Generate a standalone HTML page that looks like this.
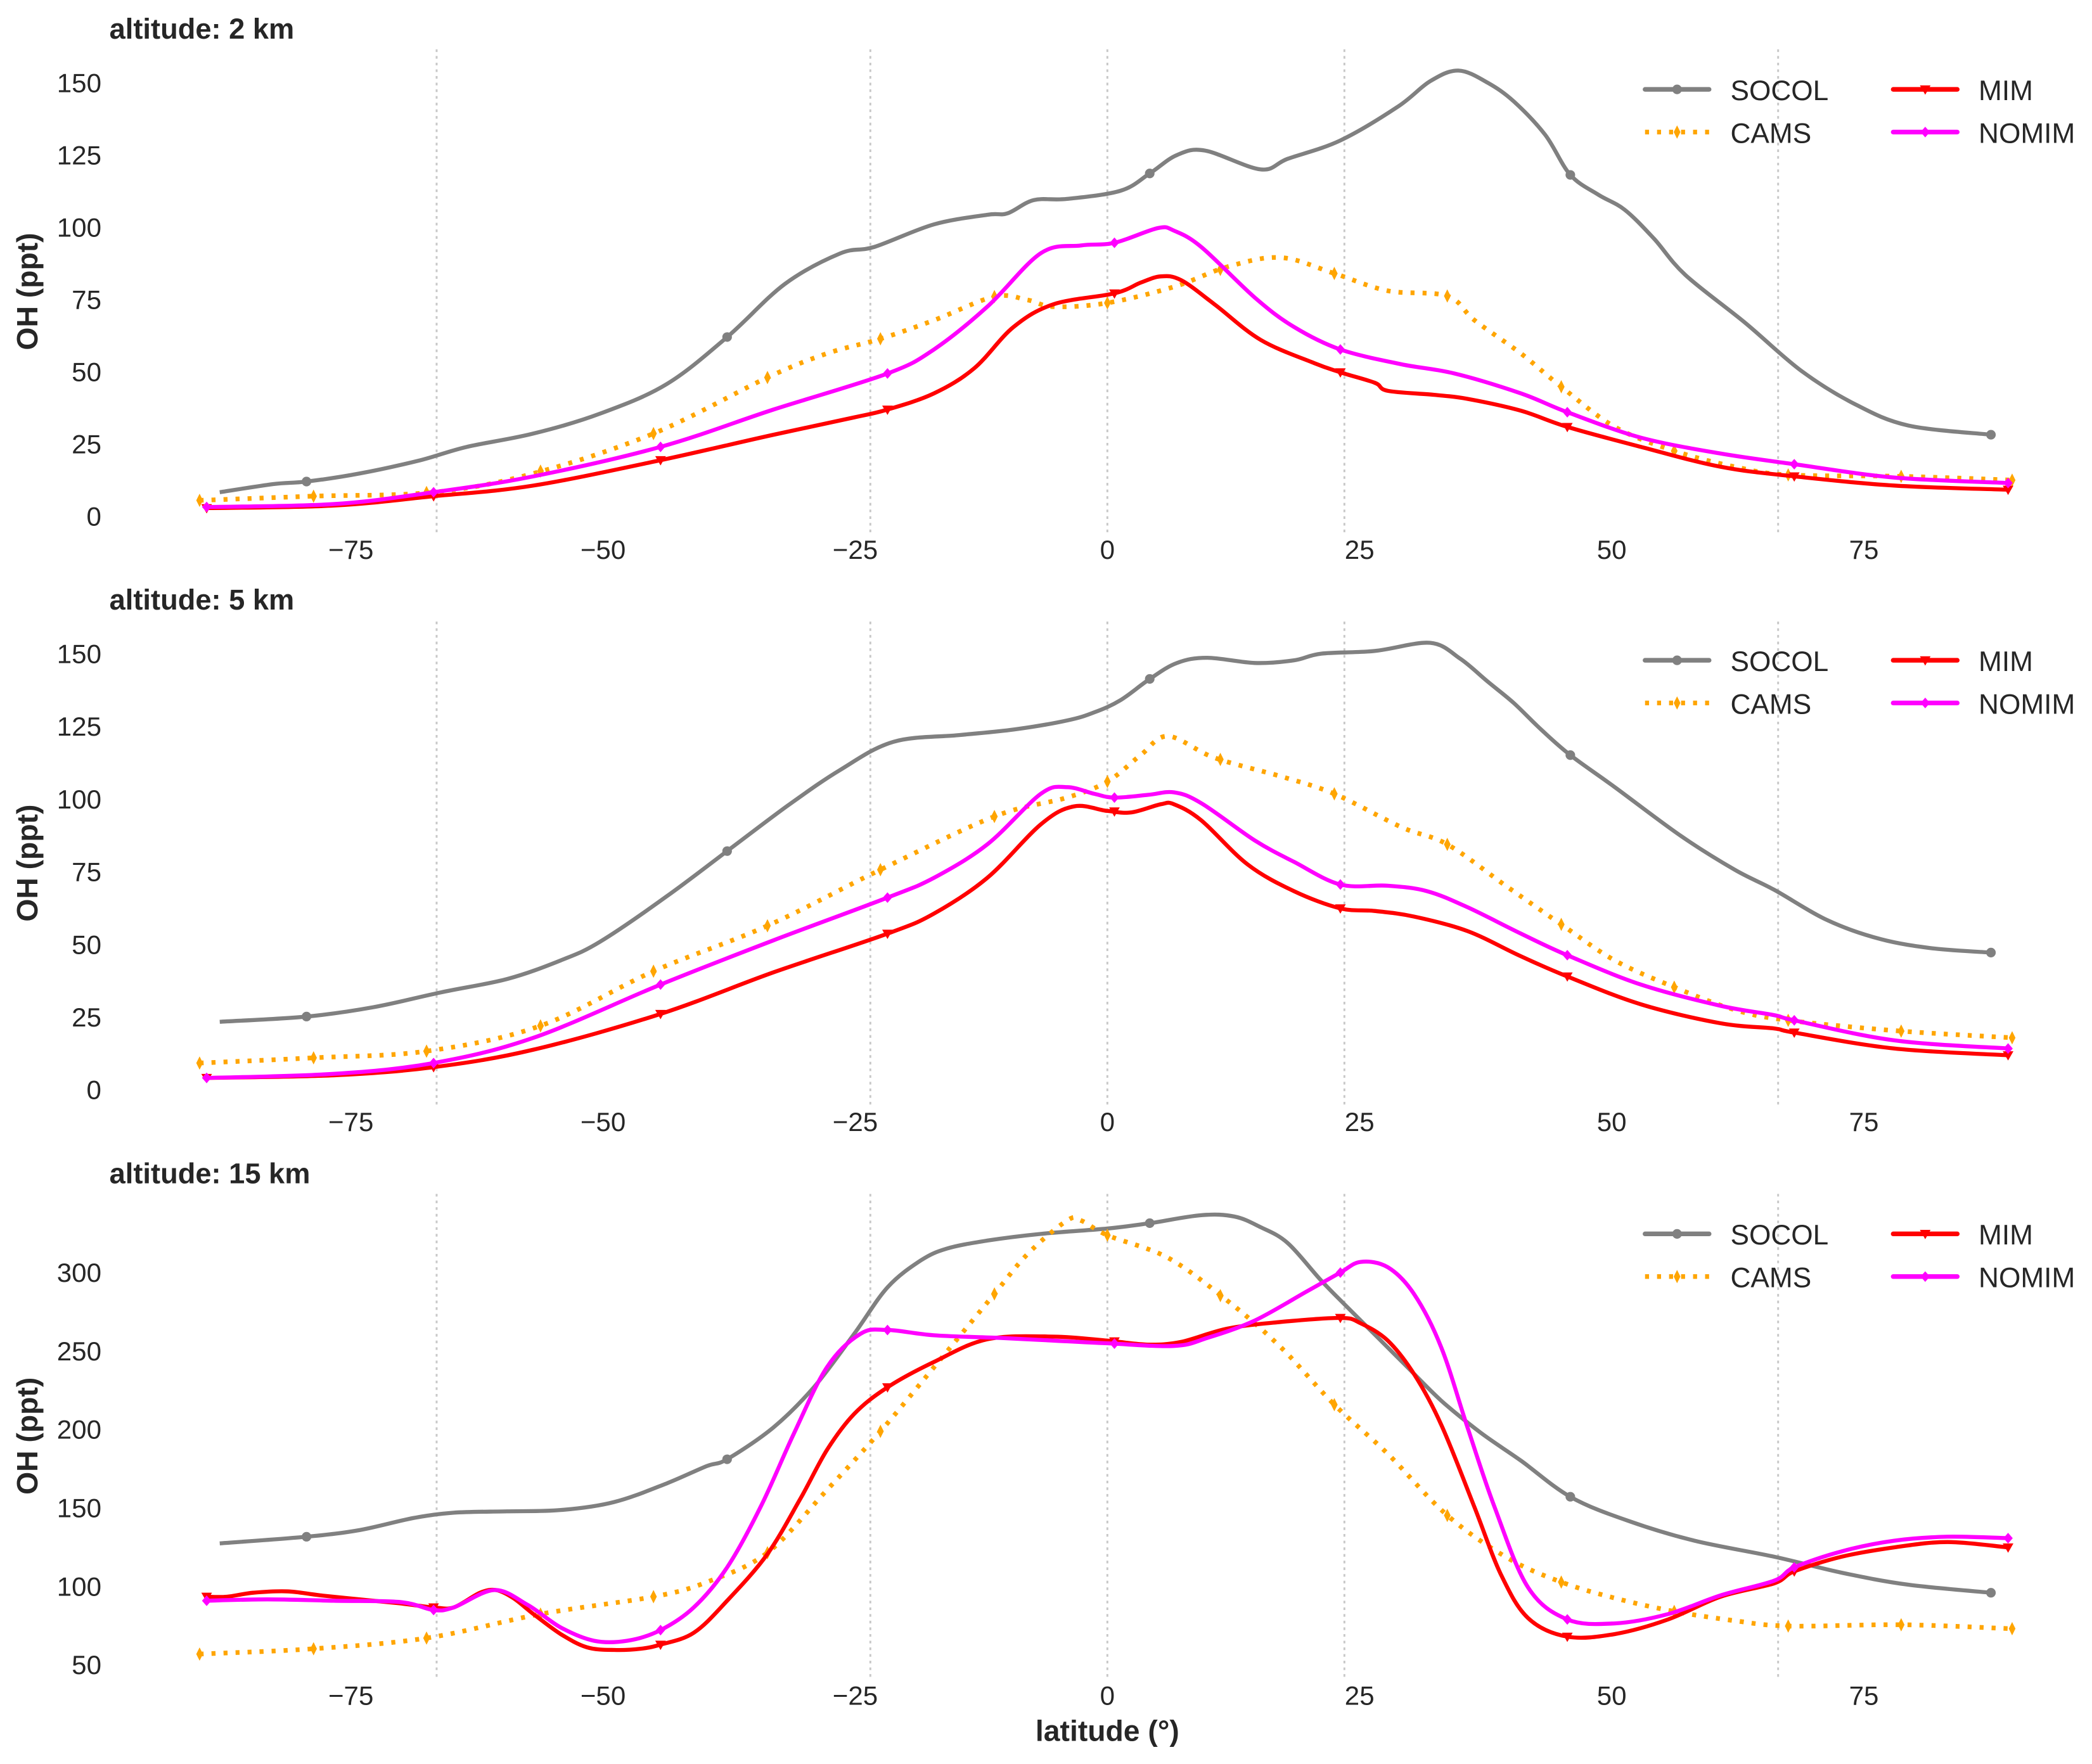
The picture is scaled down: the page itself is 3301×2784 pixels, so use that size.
<!DOCTYPE html>
<html><head><meta charset="utf-8">
<style>html,body{margin:0;padding:0;background:#fff}svg{display:block}text{font-family:"Liberation Sans",Arial,sans-serif;fill:#262626}</style>
</head><body>
<svg id="chart" xmlns="http://www.w3.org/2000/svg" width="3301" height="2784" viewBox="0 0 1568 1322.4" preserveAspectRatio="none">
<g id="root"></g>
</svg>
<script>
// ---- data ----
const p1_socol_lat=[-88,-82.7,-79.4,-74.1,-68.1,-63.5,-56.9,-50.3,-43.7,-37.7,-32,-26.5,-23.1,-17.2,-11.9,-9.9,-7.3,-4,1.3,4.2,6.9,9.7,15.2,17.9,23.1,28.8,32,34.8,37.7,40.3,43.4,45.9,48.7,51.3,54.2,57.3,63.2,68.8,74.1,79.4,87.6];
const p1_socol_val=[8.3,11.1,12,14.8,19.4,24,28.6,35.5,45.7,62,80.3,90.9,93.2,101,104.3,104.8,109.4,109.8,112.6,118.6,125,126.5,120,123.7,130,141.7,150.5,154.2,150,143.5,132,118.1,111.2,106,96,83.5,67,50.3,38.8,31.4,28.2];
const p1_cams_lat=[-90,-79,-66.8,-56.9,-45,-33.7,-27.8,-22.5,-17.2,-11.2,-7.9,-5.3,0,6.6,11.9,17.2,22.5,27.8,33.7,36.4,41,45,50.3,56.2,62.2,67.5,78.7,89.7];
const p1_cams_val=[5.5,6.9,8.3,14.8,28.6,48,56.3,61.4,67.8,76,74.8,72.5,73.8,79.4,86.3,89.5,84,78,76.2,67.8,56.3,44.8,30.9,22.6,17.1,14.3,13.8,12.5];
const p1_mim_lat=[-89.3,-76.7,-66.8,-56.9,-44.3,-33.1,-25.1,-21.8,-17.2,-13.2,-9.3,-5.3,0.7,3.3,5.3,7.3,10.6,15.2,20.5,23.1,26.5,27.8,32.4,35.7,41,45.6,52.9,60.8,68.1,78,89.3];
const p1_mim_val=[2.8,3.7,6.9,10.6,19.4,28.2,34.2,36.9,42.5,51.2,65.5,73.4,77.1,80.8,83,81.7,73.4,61,53,49.8,46.2,43.4,42,40.6,36.5,30.9,24,17.1,13.8,10.6,9.2];
const p1_nomim_lat=[-89.3,-76.7,-66.8,-56.9,-44.3,-33.1,-21.8,-17.2,-11.9,-6.6,-2.6,0.7,5,6.6,9.3,14.6,18.5,23.1,29.1,34.4,41,45.6,52.9,60.8,68.1,78,89.3];
const p1_nomim_val=[3.2,4.2,8.3,13.8,24,36.9,49.4,57.7,72.5,91,93.7,94.6,99.7,98.8,93.2,75.7,65.5,57.7,52.6,49.4,42.5,36,27.2,21.7,18,13.4,11.5];

const p2_socol_lat=[-88,-79.4,-72.8,-66.1,-59.5,-54.2,-50.3,-43.7,-37.7,-31.7,-26.5,-21.2,-14.6,-9.3,-4,-1.3,1.3,4.2,6.9,9.9,14.6,18.5,21.2,26.5,32,35,37.7,40.3,43,45.9,50.3,56.9,62.2,66.1,71.4,76.7,82,87.6];
const p2_socol_val=[23.4,25.2,28.4,33.5,38.1,44.5,50.9,66.5,82.1,97.7,110,119.7,122,123.9,127,129.8,134,141.3,146.8,148.6,146.8,147.7,150,150.9,153.7,148.2,140.4,133,123.9,115.1,104.1,87.2,75.7,68.8,58.3,51.8,48.6,47.2];
const p2_cams_lat=[-90,-78.7,-67.5,-56.2,-45,-33.7,-22.5,-11.2,-4,0,3.3,6,10.6,17.2,22.5,29.1,33.7,39.7,45,50.3,56.2,62.2,67.5,78.7,89.7];
const p2_cams_val=[9.2,11,13.3,22,40.8,56.4,75.7,94,100.5,106,115.1,121.6,114.2,107.8,101.8,90.4,84.4,69.7,56.9,44.5,35.3,27.5,23.9,20.2,17.9];
const p2_mim_lat=[-89.3,-76.7,-66.8,-56.9,-44.3,-33.1,-21.8,-17.2,-11.9,-6.6,-3.3,0,2.4,5.3,6.6,9.3,13.9,18.5,23.1,26.5,30.4,35.7,41,45.6,52.9,60.8,66.1,68.1,78,89.3];
const p2_mim_val=[4.1,5,7.8,13.8,26.1,40.4,53.7,60.6,72.9,91.3,97.5,95.9,95.4,98.2,98.2,92.7,77.5,68.3,62.4,61.5,59.6,54.6,45.9,39,29.4,22.9,21.1,19.7,14.2,11.9];
const p2_nomim_lat=[-89.3,-76.7,-66.8,-56.9,-44.3,-33.1,-21.8,-17.2,-11.9,-6.6,-4,-1.3,0.7,4,6.6,9.3,14.6,18.5,23.1,27.8,31.7,35.7,41,45.6,52.9,60.8,66.1,68.1,78,89.3];
const p2_nomim_val=[4.1,5.5,9.2,17.9,36.2,51.4,66.1,72.9,84.4,101.8,104.1,101.8,100.5,101.4,102.3,98.6,85.8,78.4,70.6,70.2,68.3,62.8,53.7,46.3,36.2,28.9,25.7,23.9,17,14.2];

const p3_socol_lat=[-88,-79.4,-74.1,-68.8,-64.8,-59.5,-54.2,-48.9,-43.7,-39.7,-37.7,-33.1,-29.1,-25.1,-21.8,-18.5,-15.9,-11.9,-6.6,0,4.2,9.3,12.6,15.2,17.9,21.2,23.8,29.1,33.1,37,41,45.9,51.6,58.2,66.1,72.8,79.4,87.6];
const p3_socol_val=[127.4,131.6,135.9,143.5,146.9,147.8,148.6,153.7,165.6,176.7,181,201.4,226.9,260.9,290.6,307.7,315.3,320.4,324.7,328.1,331.5,336.6,335.7,328.9,318.7,294.9,277.9,243.9,218.4,198,180.1,157.1,141.8,129.1,118.9,108.7,101,95.9];
const p3_cams_lat=[-90,-78.7,-67.5,-56.2,-45,-39.7,-33.7,-27.8,-22.5,-17.2,-11.2,-7.9,-4,-2.6,0,6,11.9,17.2,22.5,27.8,33.7,39.7,45,50.3,56.2,62.2,67.5,78.7,89.7];
const p3_cams_val=[56.8,60.2,67,82.3,93.4,102.7,121.4,161.4,198.8,239.6,286.4,311.9,333.2,333.2,323.8,309.4,282.1,252.4,215.8,184.4,145.2,118,102.7,92.5,84,78.1,74.7,75.5,73];
const p3_mim_lat=[-89.3,-87.3,-84.7,-81.3,-78,-72.8,-70.1,-66.8,-64.8,-62.2,-60.6,-58.9,-56.9,-54.2,-51.6,-48.9,-46.3,-44.3,-41,-37.7,-33.7,-30.4,-27.8,-25.1,-21.8,-17.2,-11.9,-5.3,0,4,7.3,11.9,17.2,23.1,25.1,27.8,30.4,33.1,36.4,39,41.7,45.6,50.3,55.6,60.8,66.1,68.1,72.8,78,83.3,89.3];
const p3_mim_val=[93.4,93.4,95.9,96.8,94.2,90.8,89.1,86.6,86.6,95.9,97.6,92.5,82.3,69.6,61.1,59.4,60.2,62.8,70.4,90.8,120.6,156.3,186.9,209.9,226.9,243,257.5,259.2,256.6,254.1,255.8,264.3,268.5,271.1,267.7,256.6,235.4,203.1,150.3,107.8,79.8,67.9,69.6,78.9,93.4,101.9,109.5,118.9,124.8,128.2,124.8];
const p3_nomim_lat=[-89.3,-83.3,-76.7,-70.1,-66.8,-64.8,-60.8,-57.5,-54.2,-50.9,-47.6,-44.3,-41,-37.7,-34.4,-31.1,-27.8,-24.5,-21.8,-17.2,-10.6,-5.3,0,6.6,9.9,14.6,19.8,23.1,25.1,27.8,30.4,33.1,35.7,38.4,41.7,45.6,50.3,55.6,60.8,66.1,68.1,72.8,78,83.3,89.3];
const p3_nomim_val=[90.8,91.7,90.8,90,84.9,86.6,97.6,88.3,73.8,65.3,65.3,72.1,86.6,112.1,150.3,197.1,239.6,260.9,263.4,260,258.3,256.6,254.9,253.2,258.3,269.4,288.1,300,306.8,303.4,286.4,252.4,201.4,150.3,99.3,78.9,76.4,82.3,94.2,103.6,112.1,122.3,129.1,131.6,130.7];

const socolMarkLat=[-79.4,-37.7,4.2,45.9,87.6];
const camsMarkLat=[-90,-78.7,-67.5,-56.2,-45,-33.7,-22.5,-11.2,0,11.2,22.5,33.7,45,56.2,67.5,78.7,89.7];
const mimMarkLat=[-89.3,-66.8,-44.3,-21.8,0.7,23.1,45.6,68.1,89.3];
const xTicks=[-75,-50,-25,0,25,50,75];
const tropicLines=[-66.5,-23.5,0,23.5,66.5];
const yTicks1=[0,25,50,75,100,125,150];
const yTicks3=[50,100,150,200,250,300];
const panelTitles=["altitude: 2 km","altitude: 5 km","altitude: 15 km"];

// ---- drawing ----
const NS="http://www.w3.org/2000/svg";
const root=document.getElementById('root');
function mk(tag,attrs,parent){const e=document.createElementNS(NS,tag);for(const k in attrs)e.setAttribute(k,attrs[k]);(parent||root).appendChild(e);return e;}
const xs=lat=>830+lat*7.56;
const panels=[
 {top:37,bot:400,y0:387,v0:0,k:2.1667,ticks:yTicks1,title:panelTitles[0],tY:22,xlY:412,legY:67,
  s:[[p1_socol_lat,p1_socol_val],[p1_cams_lat,p1_cams_val],[p1_mim_lat,p1_mim_val],[p1_nomim_lat,p1_nomim_val]]},
 {top:466,bot:828,y0:817,v0:0,k:2.18,ticks:yTicks1,title:panelTitles[1],tY:450,xlY:841,legY:495,
  s:[[p2_socol_lat,p2_socol_val],[p2_cams_lat,p2_cams_val],[p2_mim_lat,p2_mim_val],[p2_nomim_lat,p2_nomim_val]]},
 {top:895,bot:1258,y0:1248,v0:50,k:1.176,ticks:yTicks3,title:panelTitles[2],tY:880,xlY:1271,legY:925,
  s:[[p3_socol_lat,p3_socol_val],[p3_cams_lat,p3_cams_val],[p3_mim_lat,p3_mim_val],[p3_nomim_lat,p3_nomim_val]]}
];
const styles=[
 {name:'SOCOL',c:'#808080',dash:null,marks:socolMarkLat,m:'circle'},
 {name:'CAMS',c:'#FFA500',dash:'3,6',marks:camsMarkLat,m:'thindiamond'},
 {name:'MIM',c:'#FF0000',dash:null,marks:mimMarkLat,m:'tri'},
 {name:'NOMIM',c:'#FF00FF',dash:null,marks:mimMarkLat,m:'diamond'}
];
function smooth(pts){let d='M'+pts[0][0].toFixed(1)+','+pts[0][1].toFixed(1);
 for(let i=0;i<pts.length-1;i++){const p0=pts[Math.max(0,i-1)],p1=pts[i],p2=pts[i+1],p3=pts[Math.min(pts.length-1,i+2)];
  const c1=[p1[0]+(p2[0]-p0[0])/6,p1[1]+(p2[1]-p0[1])/6],c2=[p2[0]-(p3[0]-p1[0])/6,p2[1]-(p3[1]-p1[1])/6];
  d+=' C'+c1[0].toFixed(1)+','+c1[1].toFixed(1)+' '+c2[0].toFixed(1)+','+c2[1].toFixed(1)+' '+p2[0].toFixed(1)+','+p2[1].toFixed(1);}
 return d;}
function interp(lats,vals,l){if(l<=lats[0])return vals[0];for(let i=0;i<lats.length-1;i++){if(l<=lats[i+1]){const t=(l-lats[i])/(lats[i+1]-lats[i]);return vals[i]+t*(vals[i+1]-vals[i]);}}return vals[vals.length-1];}
function marker(g,type,x,y,c){
 if(type==='circle')return mk('circle',{cx:x,cy:y,r:3.6,fill:c},g);
 if(type==='tri')return mk('path',{d:`M${x-4},${y-3} L${x+4},${y-3} L${x},${y+4} Z`,fill:c},g);
 if(type==='thindiamond')return mk('path',{d:`M${x},${y-5} L${x+2.5},${y} L${x},${y+5} L${x-2.5},${y} Z`,fill:c},g);
 return mk('path',{d:`M${x},${y-4} L${x+3.5},${y} L${x},${y+4} L${x-3.5},${y} Z`,fill:c},g);
}
panels.forEach((P,pi)=>{
 const ys=v=>P.y0-(v-P.v0)*P.k;
 const g=mk('g',{});
 
 
 tropicLines.forEach(l=>{const ln=mk('line',{x1:xs(l),x2:xs(l),y1:P.top,y2:P.bot,stroke:'#c8c8c8','stroke-width':1.4,'stroke-dasharray':'2,3'},g);
  });
 const t=mk('text',{x:82,y:P.tY+7,'font-size':21.5,'font-weight':'bold'},g);t.textContent=P.title;
 
 P.ticks.forEach(v=>{const tx=mk('text',{x:76,y:ys(v)+7,'font-size':20,'text-anchor':'end'},g);tx.textContent=v;
  });
 xTicks.forEach(v=>{const tx=mk('text',{x:xs(v),y:P.xlY+7,'font-size':20,'text-anchor':'middle'},g);tx.textContent=v<0?'\u2212'+(-v):v;
  });
 const yl=mk('text',{x:0,y:0,'font-size':22,'font-weight':'bold','text-anchor':'middle',transform:`translate(28,${(P.top+P.bot)/2}) rotate(-90)`},g);
 yl.textContent='OH (ppt)';
 P.s.forEach((sd,si)=>{const S=styles[si];const sg=mk('g',{},g);
  
  const pts=sd[0].map((l,i)=>[xs(l),ys(sd[1][i])]);
  const pa={d:smooth(pts),fill:'none',stroke:S.c,'stroke-width':S.dash?3.5:3,'stroke-linejoin':'round'};
  if(S.dash){pa['stroke-dasharray']=S.dash;}
  mk('path',pa,sg);
  S.marks.forEach(l=>{if(l<sd[0][0]-1||l>sd[0][sd[0].length-1]+1)return;marker(sg,S.m,xs(l),ys(interp(sd[0],sd[1],l)),S.c);});
 });
 // legend
 const lg=mk('g',{},g);
 const pos=[[1233,P.legY],[1233,P.legY+32],[1419,P.legY],[1419,P.legY+32]];
 styles.forEach((S,si)=>{const [lx,ly]=pos[si];const e=mk('g',{},lg);
  
  const la={x1:lx,x2:lx+48,y1:ly,y2:ly,stroke:S.c,'stroke-width':3.5,'stroke-linecap':S.dash?'butt':'round'};
  if(S.dash)la['stroke-dasharray']=S.dash;mk('line',la,e);marker(e,S.m,lx+24,ly,S.c);
  const tx=mk('text',{x:lx+64,y:ly+8,'font-size':21},e);tx.textContent=S.name;});
});
const xl=mk('text',{x:830,y:1305,'font-size':22,'font-weight':'bold','text-anchor':'middle'});
xl.textContent='latitude (°)';


</script>
</body></html>
